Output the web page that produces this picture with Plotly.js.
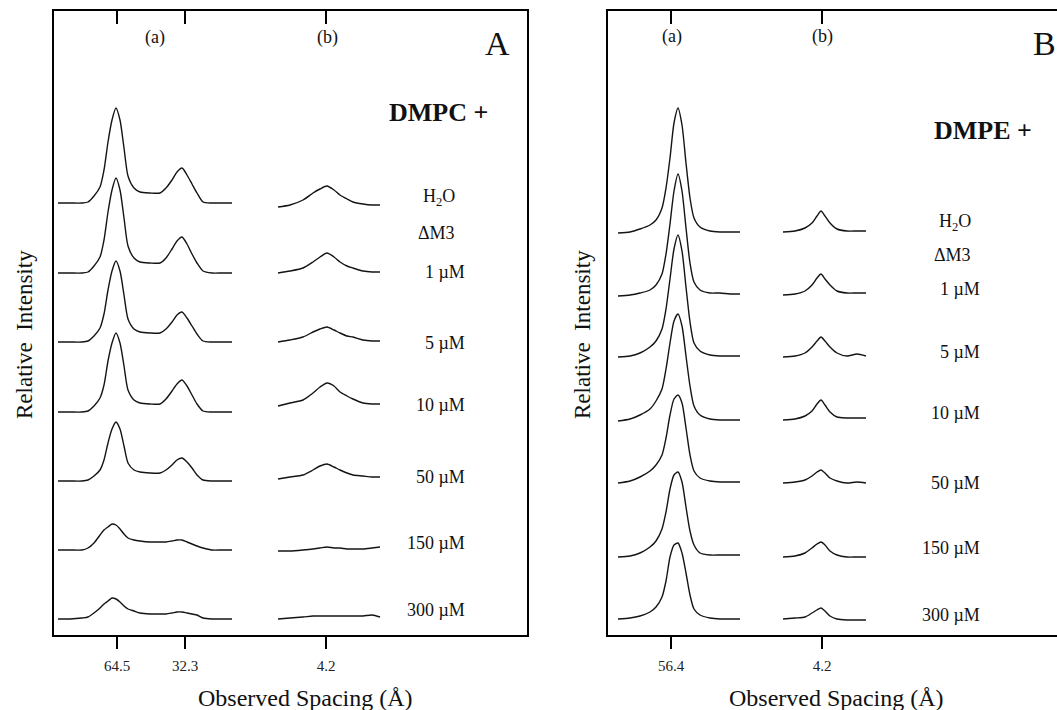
<!DOCTYPE html>
<html><head><meta charset="utf-8">
<script src="https://cdn.plot.ly/plotly-3.0.1.min.js"></script>
<style>html,body{margin:0;padding:0;overflow:hidden;background:#fff}#chart{width:1100px;height:710px}</style>
</head><body><div id="chart"></div><script>
// ---------- DATA ----------
// Sampling positions (detector position units) for each diffraction region
const xA_a = [58,70,82,88,94,100,104,108,112,116,120,124,128,134,140,150,160,166,172,177,182,187,192,197,203,212,222,232];
const xA_b = [278,290,303,313,320,327,334,340,347,353,363,372,380];
const xB_a = [618,630,640,650,656,662,666,670,674,678,682,686,690,694,700,710,720,730,740];
const xB_b = [783,795,805,812,817,821,825,830,837,847,857,866];

// Tick positions / labels
const tickPosA = [117,185,326];
const tickTextA = ['64.5','32.3','4.2'];
const tickPosB = [671,822];
const tickTextB = ['56.4','4.2'];

// Sample labels
const labelsA = ['H<sub>2</sub>O','ΔM3','1 µM','5 µM','10 µM','50 µM','150 µM','300 µM'];
const labelsB = ['H<sub>2</sub>O','ΔM3','1 µM','5 µM','10 µM','50 µM','150 µM','300 µM'];

// Stack baselines (relative intensity offsets)
const baseA = [432,362,293,223,154,85,16];
const baseB = [402,339,278,214,152,78,16];

// DMPC profiles, region (a) and (b)
const dmpcH2O_a  = [0,0,0,1,7,16,33,61,83,95,83,55,27,15,11,10,10,15,23,31,35,28,19,10,1,0,0,0];
const dmpc1_a    = [0,0,0,1,7,16,33,61,83,95,83,55,27,15,11,10,10,15,24,32,36,29,19,10,2,0,0,0];
const dmpc5_a    = [0,0,0,1,6,14,28,52,71,81,71,47,23,13,10,9,9,13,20,27,30,24,16,8,1,0,0,0];
const dmpc10_a   = [0,0,0,1,6,14,27,51,69,79,69,46,22,12,9,8,8,13,21,28,32,26,17,8,1,0,0,0];
const dmpc50_a   = [0,0,0,1,5,11,21,38,52,59,52,35,18,11,9,8,8,11,16,21,23,19,13,6,1,0,0,0];
const dmpc150_a  = [0,0,0,2,7,15,20,23,26,25,21,16,12,10,9,8,8,8,9,10,10,8,6,4,2,0,0,0];
const dmpc300_a  = [0,0,1,2,6,11,15,18,21,20,17,13,10,8,6,5,5,5,6,7,7,6,5,4,1,0,0,0];
const dmpcH2O_b  = [-4,-2,3,10,14,17,13,8,4,1,-1,-2,-2];
const dmpc1_b    = [0,2,5,11,16,20,16,11,7,5,2,1,1];
const dmpc5_b    = [0,2,5,10,13,15,12,9,6,5,2,1,1];
const dmpc10_b   = [6,9,12,19,25,29,26,20,16,13,9,8,8];
const dmpc50_b   = [2,4,6,11,15,17,14,11,8,6,5,4,4];
const dmpc150_b  = [-1,-1,0,1,2,3,2,2,1,1,1,2,3];
const dmpc300_b  = [0,1,2,3,3,3,3,3,3,3,3,4,2];

// DMPE profiles, region (a) and (b)
const dmpeH2O_a  = [0,1,4,8,13,25,45,75,110,125,108,70,35,15,6,2,1,1,1];
const dmpe1_a    = [0,1,3,6,11,22,42,72,105,122,105,68,33,14,6,3,3,2,2];
const dmpe5_a    = [0,1,4,10,16,28,48,78,108,122,106,70,35,14,6,2,1,1,1];
const dmpe10_a   = [0,2,6,12,20,32,52,78,100,107,95,65,35,15,6,2,1,1,1];
const dmpe50_a   = [0,2,6,12,18,28,45,68,84,88,80,55,28,12,5,2,1,1,1];
const dmpe150_a  = [0,1,4,10,16,28,45,68,82,85,75,50,26,12,4,2,2,2,2];
const dmpe300_a  = [0,1,3,7,12,22,38,62,74,76,66,46,24,10,4,1,0,0,0];
const dmpeH2O_b  = [1,2,5,10,17,22,17,10,4,2,2,2];
const dmpe1_b    = [1,2,5,11,18,22,17,11,5,3,3,3];
const dmpe5_b    = [0,1,4,10,16,20,16,10,4,1,3,1];
const dmpe10_b   = [1,2,5,10,17,21,16,9,4,3,3,3];
const dmpe50_b   = [0,1,3,7,11,13,10,5,2,0,1,0];
const dmpe150_b  = [0,1,4,9,13,15,12,6,2,0,0,0];
const dmpe300_b  = [0,1,2,6,9,11,8,3,0,-1,-1,-1];

// ---------- BUILD ----------
const profA = [[dmpcH2O_a,dmpcH2O_b],[dmpc1_a,dmpc1_b],[dmpc5_a,dmpc5_b],[dmpc10_a,dmpc10_b],[dmpc50_a,dmpc50_b],[dmpc150_a,dmpc150_b],[dmpc300_a,dmpc300_b]];
const profB = [[dmpeH2O_a,dmpeH2O_b],[dmpe1_a,dmpe1_b],[dmpe5_a,dmpe5_b],[dmpe10_a,dmpe10_b],[dmpe50_a,dmpe50_b],[dmpe150_a,dmpe150_b],[dmpe300_a,dmpe300_b]];

const W = 1100, H = 710;
const lineStyle = {color:'#141414', width:1.4, shape:'spline', smoothing:0.7};
const traces = [];
function addProfiles(profs, bases, xa, xb, xref, yref){
  profs.forEach((p,i)=>{
    const b = bases[i];
    traces.push({
      type:'scatter', mode:'lines', xaxis:xref, yaxis:yref, hoverinfo:'skip', showlegend:false,
      x: xa.concat([null], xb),
      y: p[0].map(v=>v+b).concat([null], p[1].map(v=>v+b)),
      connectgaps:false, line:lineStyle
    });
  });
}
addProfiles(profA, baseA, xA_a, xA_b, 'x', 'y');
addProfiles(profB, baseB, xB_a, xB_b, 'x2', 'y2');
traces.push({type:'scatter', x:[], y:[], xaxis:'x3', yaxis:'y', showlegend:false});
traces.push({type:'scatter', x:[], y:[], xaxis:'x4', yaxis:'y2', showlegend:false});

const serif = 'Liberation Serif, Times New Roman, serif';
const yDom = [(H-635)/H, (H-11)/H];
const rangeA = [54,527], rangeB = [608,1075];

function xax(range, tv, tt){
  return {domain:[range[0]/W, range[1]/W], range:range,
    showline:true, mirror:true, linecolor:'#000', linewidth:2, showgrid:false, zeroline:false,
    tickmode:'array', tickvals:tv, ticktext:tt, ticks:'outside', ticklen:12, tickwidth:1.4, tickcolor:'#000',
    ticklabelstandoff:4, tickfont:{family:serif, size:15, color:'#222'}, fixedrange:true};
}
function topax(over, range, tv){
  return {overlaying:over, side:'top', range:range, showline:false, showgrid:false, zeroline:false,
    tickmode:'array', tickvals:tv, ticks:'inside', ticklen:13, tickwidth:1.4, tickcolor:'#000',
    showticklabels:false, fixedrange:true};
}
function yax(){
  return {domain:yDom, range:[0,624], showline:true, mirror:true, linecolor:'#000', linewidth:2,
    showgrid:false, zeroline:false, showticklabels:false, ticks:'', fixedrange:true};
}

// All texts are placed in page pixels via paper coordinates
const ann = [];
function txt(text, xPix, yPix, size, opts){
  ann.push(Object.assign({text:text, xref:'paper', yref:'paper', x:xPix/W, y:1-yPix/H, showarrow:false,
    font:{family:serif, size:size, color:'#111'}, xanchor:'center', yanchor:'middle'}, opts||{}));
}
// Panel A texts
txt('(a)',155,37,18);
txt('(b)',327,37,18);
txt('A',498,43,34);
txt('<b>DMPC +</b>',438,112,26);
const labYA = [197,233,272,343,405,477,543,610];
const labXA = [457,457,467,467,467,467,467,467];
labelsA.forEach((t,i)=>txt(t,labXA[i],labYA[i],18,{xanchor:'right'}));
txt('Relative  Intensity',24,335,23,{textangle:-90});
txt('Observed Spacing (Å)',305,698,24);
// Panel B texts
txt('(a)',672,36,18);
txt('(b)',822,36,18);
txt('B',1044,43,34);
txt('<b>DMPE +</b>',983,131,26);
const labYB = [222,255,289,352,413,483,548,615];
const labXB = [973,973,982,982,982,982,982,982];
labelsB.forEach((t,i)=>txt(t,labXB[i],labYB[i],18,{xanchor:'right'}));
txt('Relative  Intensity',582,335,23,{textangle:-90});
txt('Observed Spacing (Å)',836,698,24);

const layout = {
  width:W, height:H, autosize:false, margin:{l:0,r:0,t:0,b:0},
  paper_bgcolor:'#fff', plot_bgcolor:'rgba(0,0,0,0)', showlegend:false,
  xaxis: Object.assign(xax(rangeA, tickPosA, tickTextA), {anchor:'y'}),
  xaxis2: Object.assign(xax(rangeB, tickPosB, tickTextB), {anchor:'y2'}),
  xaxis3: Object.assign(topax('x', rangeA, tickPosA), {anchor:'y'}),
  xaxis4: Object.assign(topax('x2', rangeB, tickPosB), {anchor:'y2'}),
  yaxis: Object.assign(yax(), {anchor:'x'}),
  yaxis2: Object.assign(yax(), {anchor:'x2'}),
  annotations: ann
};
Plotly.newPlot('chart', traces, layout, {displayModeBar:false, staticPlot:true});
</script></body></html>
